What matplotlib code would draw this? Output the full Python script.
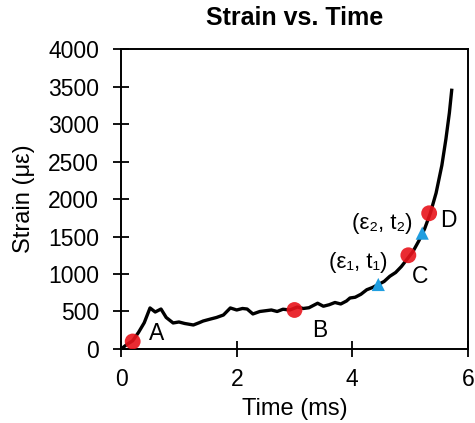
import matplotlib.pyplot as plt

plt.rcParams['font.family'] = ['Liberation Sans', 'DejaVu Sans']

# Strain curve
time_ms = [0.0, 0.1, 0.2, 0.3, 0.4, 0.5, 0.59, 0.69, 0.78, 0.9, 1.0, 1.1,
           1.25, 1.35, 1.42, 1.55, 1.65, 1.77, 1.89, 2.0, 2.1, 2.18, 2.28, 2.4,
           2.5, 2.6, 2.7, 2.8, 2.92, 3.05, 3.15, 3.25, 3.4, 3.5, 3.6, 3.7, 3.8,
           3.9, 3.96, 4.05, 4.15, 4.25, 4.35, 4.45, 4.55, 4.65, 4.75, 4.85, 4.95,
           5.05, 5.15, 5.25, 5.35, 5.45, 5.55, 5.62, 5.68, 5.72]
strain = [0, 60, 110, 220, 350, 547, 493, 533, 420, 347, 360, 340,
          320, 350, 373, 400, 420, 453, 547, 520, 540, 533, 467, 500,
          510, 520, 500, 530, 520, 560, 540, 550, 610, 570, 590, 620, 600,
          640, 680, 690, 730, 790, 820, 860, 900, 970, 1020, 1100, 1200,
          1300, 1440, 1600, 1810, 2080, 2450, 2800, 3150, 3450]

point_t = [0.2, 3.0, 4.97, 5.33]
point_s = [100, 520, 1250, 1810]
point_names = ['A', 'B', 'C', 'D']

tri_t = [4.45, 5.21]
tri_s = [860, 1545]

fig = plt.figure(figsize=(4.75, 4.23), dpi=100)
ax = fig.add_axes([0.255, 0.175, 0.73, 0.709])

ax.plot(time_ms, strain, color='black', lw=2.4, zorder=2)
ax.scatter(point_t, point_s, s=130, color='#e8141c', alpha=0.9, zorder=3, edgecolors='none')
ax.scatter(tri_t, tri_s, s=90, marker='^', color='#1f9ee0', zorder=4, edgecolors='none')

label_pos = [(0.62, 213), (3.44, 253), (5.17, 960), (5.66, 1720)]
for name, (lx, ly) in zip(point_names, label_pos):
    ax.text(lx, ly, name, fontsize=16.5, ha='center', va='center')

ax.text(4.1, 1160, '(ε₁, t₁)', fontsize=16, ha='center', va='center')
ax.text(4.52, 1680, '(ε₂, t₂)', fontsize=16, ha='center', va='center')

ax.set_xlim(0, 6)
ax.set_ylim(0, 4000)
ax.set_xticks([0, 2, 4, 6])
ax.set_yticks(range(0, 4001, 500))
ax.tick_params(direction='inout', length=12, width=1.3, labelsize=16.5)
ax.tick_params(axis='y', pad=10)
ax.tick_params(axis='x', pad=8)
for sp in ax.spines.values():
    sp.set_linewidth(1.4)

ax.set_xlabel('Time (ms)', fontsize=17, labelpad=5)
ax.set_ylabel('Strain (με)', fontsize=17, labelpad=9)
ax.set_title('Strain vs. Time', fontsize=18, fontweight='bold', pad=17)

fig.savefig('out.png', dpi=100)
